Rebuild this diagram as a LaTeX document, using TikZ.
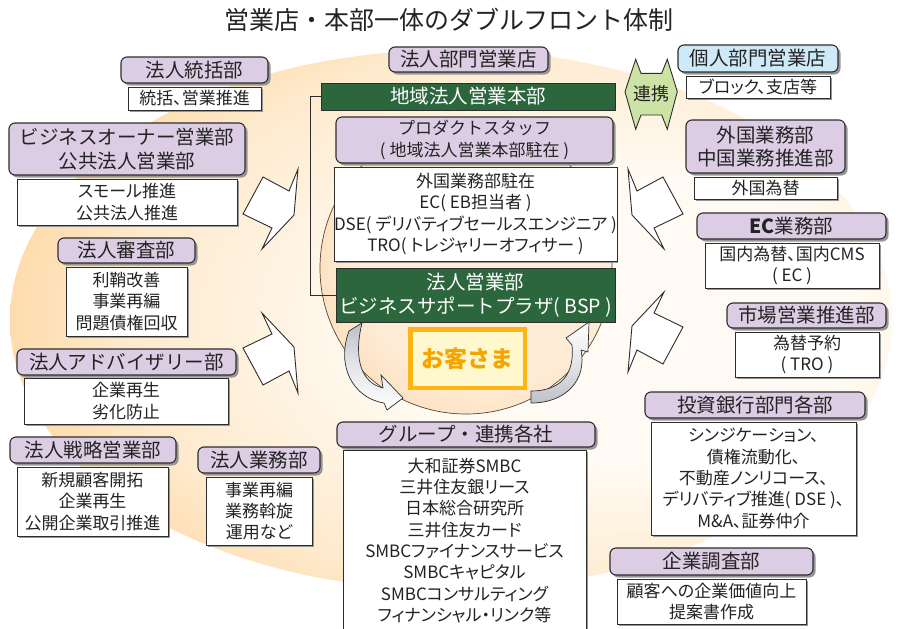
\documentclass[tikz,border=0pt]{standalone}
\usepackage{fontspec}
\setmainfont{Noto Sans CJK JP}
\newfontfamily\jpp[RawFeature=+palt]{Noto Sans CJK JP}
\usetikzlibrary{shadows}
\definecolor{bdr}{RGB}{45,45,45}
\definecolor{txt}{RGB}{35,35,35}
\definecolor{purp}{RGB}{221,205,228}
\definecolor{blu}{RGB}{206,234,248}
\definecolor{grn}{RGB}{44,102,60}
\definecolor{lgrn}{RGB}{205,227,165}
\definecolor{shd}{RGB}{150,150,150}
\definecolor{bgin}{RGB}{255,251,244}
\definecolor{bgA}{RGB}{254,234,205}
\definecolor{bgB}{RGB}{253,206,142}
\definecolor{bgout}{RGB}{251,188,98}
\definecolor{bgedge}{RGB}{250,182,88}
\definecolor{cin}{RGB}{254,236,214}
\definecolor{cout}{RGB}{250,195,135}
\definecolor{okb}{RGB}{253,180,20}
\definecolor{oky}{RGB}{255,247,205}
\definecolor{okt}{RGB}{245,165,0}
\definecolor{rib}{RGB}{190,192,200}
\pgfdeclareradialshading{bgshade}{\pgfpoint{12bp}{0bp}}{color(0bp)=(bgin); color(13bp)=(bgin); color(26bp)=(bgA); color(37bp)=(bgB); color(48bp)=(bgout); color(70bp)=(bgedge)}
\pgfdeclareradialshading{cshade}{\pgfpoint{6bp}{4bp}}{color(0bp)=(cin); color(22bp)=(cin); color(50bp)=(cout); color(60bp)=(cout)}
\newcommand{\hf}{\fontsize{19.5}{24}\selectfont}
\newcommand{\bodyf}{\jpp\fontsize{17}{21.3}\selectfont}
\begin{document}
\begin{tikzpicture}[x=1pt,y=-1pt,
  hdr/.style={draw=bdr, line width=1.1pt, fill=purp, rounded corners=6pt,
    drop shadow={shadow xshift=2.5pt, shadow yshift=-2.5pt, fill=shd, opacity=1},
    align=center, inner sep=0pt, font=\hf, text=txt},
  wbox/.style={draw=bdr, line width=0.9pt, fill=white,
    drop shadow={shadow xshift=1.5pt, shadow yshift=-1.5pt, fill=shd, opacity=1},
    align=center, inner sep=0pt, font=\bodyf, text=txt},
  gbox/.style={draw=bdr, line width=1pt, fill=grn, align=center, inner sep=0pt,
    font=\hf, text=white},
  blockarr/.style={draw=bdr, line width=0.9pt, fill=white, line join=miter},
  ribbon/.style={draw=bdr, line width=0.7pt},
  thinline/.style={draw=bdr, line width=0.8pt}
]
\useasboundingbox (0,0) rectangle (898,629);
% background
\shade[shading=bgshade] (451,320) ellipse [x radius=441pt, y radius=270pt];
\shade[shading=cshade, draw=bdr!70!brown, line width=0.7pt] (466,268) circle [radius=146pt];

% title
\node[font=\fontsize{25}{30}\selectfont, text=txt] (title) at (449,20) {営業店・本部一体のダブルフロント体制};

% block arrows
\path[blockarr] (263,177) -- (289,191) -- (298,169) -- (294,215) -- (262,249) -- (272,228) -- (243,214) -- cycle;
\path[blockarr] (263,385) -- (289,371) -- (298,393) -- (294,347) -- (262,313) -- (272,334) -- (243,348) -- cycle;
\path[blockarr] (663,177) -- (637,191) -- (628,169) -- (632,215) -- (664,249) -- (654,228) -- (683,214) -- cycle;
\path[blockarr] (663,364) -- (637,350) -- (628,372) -- (632,326) -- (664,292) -- (654,313) -- (683,327) -- cycle;

% left column
\node[hdr, minimum width=147, minimum height=26] (tokatsu) at (194.5,70) {法人統括部};
\node[wbox, minimum width=133, minimum height=23] (tokatsuw) at (194.5,98.5) {統括、営業推進};
\node[hdr, minimum width=236, minimum height=52, font=\fontsize{19.5}{24}\selectfont] (owner) at (127,149) {ビジネスオーナー営業部\\公共法人営業部};
\node[wbox, minimum width=220, minimum height=46] (ownerw) at (127,202) {スモール推進\\公共法人推進};
\node[hdr, minimum width=137, minimum height=25] (shinsa) at (126.5,250.5) {法人審査部};
\node[wbox, minimum width=121, minimum height=69] (shinsaw) at (126.5,301.5) {利鞘改善\\事業再編\\問題債権回収};
\node[hdr, minimum width=219, minimum height=26] (adv) at (126.5,362) {法人アドバイザリー部};
\node[wbox, minimum width=204, minimum height=46] (advw) at (126,401) {企業再生\\劣化防止};
\node[hdr, minimum width=166, minimum height=26] (senryaku) at (93,450) {法人戦略営業部};
\node[wbox, minimum width=151, minimum height=69] (senryakuw) at (92.5,501.5) {新規顧客開拓\\企業再生\\公開企業取引推進};
\node[hdr, minimum width=122, minimum height=26] (gyomu) at (259,460) {法人業務部};
\node[wbox, minimum width=106, minimum height=68] (gyomuw) at (259,511) {事業再編\\業務斡旋\\運用など};

% center column
\node[hdr, minimum width=159, minimum height=25] (hojinten) at (468.5,59.5) {法人部門営業店};
\node[gbox, minimum width=294, minimum height=27] (chiiki) at (468,96.5) {地域法人営業本部};
\node[hdr, minimum width=277, minimum height=46, font=\fontsize{17}{22}\selectfont] (product) at (474.5,140) {プロダクトスタッフ\\( 地域法人営業本部駐在 )};
\node[wbox, minimum width=279, minimum height=94, font=\jpp\fontsize{17}{21.6}\selectfont] (staffw) at (475.5,214) {外国業務部駐在\\EC( EB担当者 )\\DSE( デリバティブセールスエンジニア )\\TRO( トレジャリーオフィサー )};
\node[gbox, minimum width=279, minimum height=54] (bsp) at (475.5,295) {法人営業部\\ビジネスサポートプラザ( BSP )};
\draw[thinline] (chiiki.west) -- ++(-10,0) |- (bsp.west);
\node[draw=okb, line width=4.5pt, fill=oky, minimum width=114.5, minimum height=58.5, inner sep=0pt,
  font=\fontsize{23}{26}\selectfont\bfseries, text=okt] (okyaku) at (467.5,358.5) {お客さま};

% curved ribbon arrows
\path[ribbon, top color=rib, bottom color=white, middle color=rib!40!white]
  (349,331) .. controls (336,366) and (353,398) .. (384,403)
  -- (387,410) -- (403,398) -- (381,375) -- (383,388)
  .. controls (362,383) and (353,360) .. (362,323) -- cycle;
\path[ribbon, top color=white, bottom color=rib, middle color=rib!40!white]
  (531,403) .. controls (566,403) and (587,380) .. (581,350)
  -- (588,352) -- (589,322) -- (566,338) -- (572,345)
  .. controls (575,375) and (560,391) .. (531,391) -- cycle;

\node[hdr, minimum width=258, minimum height=25] (group) at (466,434.5) {グループ・連携各社};
\node[wbox, minimum width=243, minimum height=181] (groupw) at (464.5,540.5) {大和証券SMBC\\三井住友銀リース\\日本総合研究所\\三井住友カード\\SMBCファイナンスサービス\\SMBCキャピタル\\SMBCコンサルティング\\フィナンシャル・リンク等};

% renkei arrow
\path[draw=bdr, line width=0.9pt, fill=lgrn, line join=miter]
  (625,91.7) -- (635.7,59.3) -- (641,73.3) -- (661.7,73.3) -- (667.3,59.3) -- (677.3,91.7)
  -- (667.3,129.3) -- (661.7,115) -- (641,115) -- (635.7,129.3) -- cycle;
\node[font=\fontsize{18}{20}\selectfont, text=txt, inner sep=0pt] (renkei) at (651,93.5) {連携};

% right column
\node[hdr, fill=blu, minimum width=160, minimum height=27] (kojin) at (758,58.5) {個人部門営業店};
\node[wbox, minimum width=144, minimum height=22] (kojinw) at (758,87) {ブロック、支店等};
\node[hdr, minimum width=159, minimum height=53, font=\fontsize{19.5}{23}\selectfont] (gaikoku) at (765.5,146.5) {外国業務部\\中国業務推進部};
\node[wbox, minimum width=143, minimum height=22] (gaikokuw) at (765.5,188) {外国為替};
\node[hdr, minimum width=189, minimum height=26] (ec) at (791.5,226) {{\bfseries EC}業務部};
\node[wbox, minimum width=174, minimum height=45] (ecw) at (792,265.5) {国内為替、国内CMS\\( EC )};
\node[hdr, minimum width=159, minimum height=25] (ichiba) at (806.5,315.5) {市場営業推進部};
\node[wbox, minimum width=144, minimum height=45] (ichibaw) at (807,354.5) {為替予約\\( TRO )};
\node[hdr, minimum width=220, minimum height=26] (toshi) at (755,405) {投資銀行部門各部};
\node[wbox, minimum width=205, minimum height=113] (toshiw) at (753.5,478.5) {シンジケーション、\\債権流動化、\\不動産ノンリコース、\\デリバティブ推進( DSE )、\\M\&A、証券仲介};
\node[hdr, minimum width=203, minimum height=27] (chosa) at (711.5,561.5) {企業調査部};
\node[wbox, minimum width=189, minimum height=45] (chosaw) at (711.5,601.5) {顧客への企業価値向上\\提案書作成};
\end{tikzpicture}
\end{document}
